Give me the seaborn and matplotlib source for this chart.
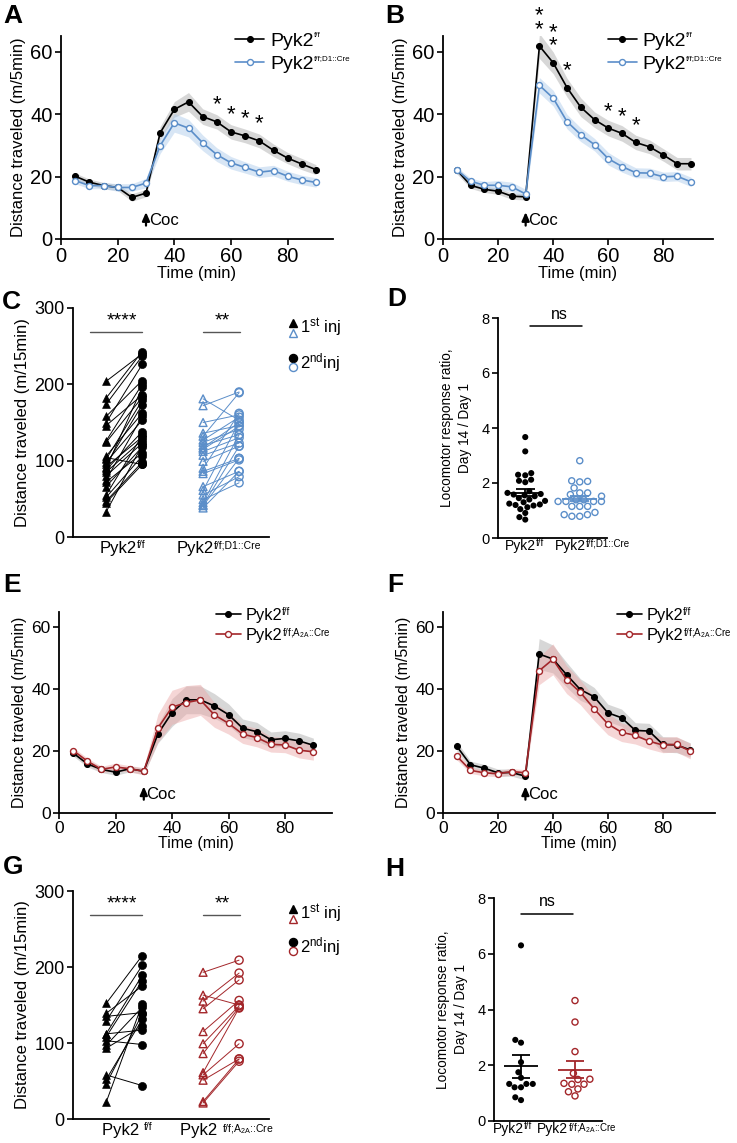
import numpy as np
import pandas as pd
import matplotlib
matplotlib.use("Agg")
import matplotlib.pyplot as plt
import seaborn as sns

##########################################
# Data
##########################################
time = [5, 10, 15, 20, 25, 30, 35, 40, 45, 50, 55, 60, 65, 70, 75, 80, 85, 90]

# A : day 1, D1 cohort
a_ff = [20.1, 18.2, 17.1, 16.5, 13.3, 14.7, 34.0, 41.5, 43.9, 39.2, 37.5, 34.3, 33.0, 31.4, 28.4, 25.9, 24.0, 22.2]
a_ff_sem = [1.0, 1.0, 1.0, 1.0, 1.2, 1.2, 2.0, 2.5, 3.0, 2.5, 2.3, 2.3, 2.2, 2.2, 2.0, 1.8, 1.8, 1.6]
a_d1 = [18.7, 17.1, 17.1, 16.5, 16.5, 17.9, 29.9, 37.2, 35.5, 30.8, 27.0, 24.4, 22.9, 21.4, 21.9, 20.1, 18.9, 18.1]
a_d1_sem = [1.0, 1.0, 1.0, 1.2, 1.2, 1.5, 2.5, 3.0, 2.8, 2.5, 2.2, 2.0, 1.8, 1.7, 1.7, 1.6, 1.5, 1.5]
a_star_times = [55, 60, 65, 70]

# B : day 14, D1 cohort
b_ff = [22.1, 17.2, 15.9, 15.3, 13.7, 13.5, 61.8, 56.4, 48.5, 42.2, 38.2, 35.5, 33.8, 30.9, 29.5, 26.9, 24.1, 24.1]
b_ff_sem = [1.2, 1.0, 1.0, 1.0, 1.0, 1.0, 4.0, 3.5, 3.0, 3.0, 2.5, 2.5, 2.5, 2.3, 2.2, 2.0, 2.0, 2.0]
b_d1 = [22.1, 18.5, 17.2, 17.2, 16.7, 14.4, 49.2, 45.1, 37.6, 33.4, 30.2, 25.7, 23.2, 21.2, 21.1, 19.9, 20.1, 18.3]
b_d1_sem = [1.0, 1.0, 1.2, 1.5, 1.5, 1.5, 2.5, 2.5, 2.3, 2.2, 2.0, 2.0, 1.8, 1.6, 1.6, 1.5, 1.5, 1.5]
b_star_times = [35, 40, 45, 60, 65, 70]
b_star_counts = [2, 2, 1, 1, 1, 1]

# C : paired injections, D1 cohort
c_ff_1st = [204, 182, 174, 158, 150, 146, 126, 124, 106, 102, 98, 95, 92, 90, 88, 85, 80, 75, 72, 66, 55, 52, 47, 45, 33, 104]
c_ff_2nd = [240, 243, 237, 205, 226, 186, 200, 183, 162, 179, 153, 173, 131, 196, 138, 127, 123, 158, 110, 118, 133, 106, 98, 95, 120, 95]
c_d1_1st = [181, 172, 150, 136, 132, 127, 124, 120, 117, 112, 107, 99, 90, 86, 83, 66, 61, 55, 49, 45, 42, 41, 38, 115]
c_d1_2nd = [153, 190, 160, 146, 189, 157, 141, 134, 150, 130, 123, 119, 162, 103, 101, 86, 150, 79, 71, 134, 119, 103, 86, 145]

# D : day14/day1 ratio, D1 cohort
d_ff = [3.67, 3.15, 2.36, 2.30, 2.28, 2.12, 2.08, 2.03, 1.70, 1.64, 1.60, 1.58, 1.55, 1.52,
        1.45, 1.40, 1.35, 1.30, 1.25, 1.22, 1.20, 1.18, 1.12, 1.05, 0.91, 0.76, 0.67]
d_d1 = [2.81, 2.08, 2.04, 2.06, 1.82, 1.64, 1.58, 1.64, 1.52, 1.39, 1.39, 1.33, 1.33, 1.33,
        1.33, 1.15, 1.15, 1.15, 0.93, 0.85, 0.79, 0.79, 0.85]

# E : day 1, A2A cohort
e_ff = [19.4, 15.9, 14.1, 13.2, 14.3, 13.5, 25.6, 32.5, 36.6, 36.6, 34.6, 31.8, 27.4, 26.3, 23.7, 24.1, 23.3, 21.9]
e_ff_sem = [1.0, 1.0, 1.0, 1.0, 1.0, 1.0, 3.0, 4.5, 4.5, 4.5, 4.0, 3.5, 3.0, 3.0, 2.5, 2.5, 2.5, 2.3]
e_a2a = [20.2, 16.8, 14.1, 14.9, 14.3, 13.5, 27.5, 34.2, 35.7, 36.6, 31.7, 29.0, 25.5, 24.4, 22.2, 22.0, 20.3, 19.8]
e_a2a_sem = [1.0, 1.0, 1.0, 1.2, 1.0, 1.2, 4.5, 5.5, 5.5, 5.0, 4.0, 3.5, 3.0, 3.0, 2.5, 2.5, 2.5, 2.7]

# F : day 14, A2A cohort
f_ff = [21.6, 15.6, 14.5, 13.0, 13.1, 11.9, 51.4, 49.8, 44.7, 39.9, 37.6, 32.4, 30.8, 26.7, 26.5, 22.2, 22.0, 20.4]
f_ff_sem = [1.5, 1.2, 1.2, 1.2, 1.2, 1.2, 5.0, 4.5, 4.0, 3.5, 3.0, 2.8, 2.8, 2.5, 2.5, 2.5, 2.5, 2.3]
f_a2a = [18.4, 13.8, 13.0, 12.7, 13.4, 13.0, 46.0, 49.7, 43.1, 39.0, 33.7, 28.8, 26.1, 25.1, 23.2, 22.0, 22.2, 20.0]
f_a2a_sem = [1.2, 1.0, 1.0, 1.0, 1.0, 1.0, 4.5, 5.0, 4.5, 4.0, 3.8, 3.5, 3.0, 2.8, 2.5, 2.5, 2.5, 2.5]

# G : paired injections, A2A cohort
g_ff_1st = [152, 139, 135, 129, 112, 108, 103, 97, 93, 58, 52, 46, 22, 112]
g_ff_2nd = [215, 175, 140, 202, 189, 182, 98, 147, 122, 44, 131, 138, 151, 117]
g_a2a_1st = [193, 163, 155, 145, 115, 99, 86, 61, 58, 51, 23, 21]
g_a2a_2nd = [209, 150, 192, 183, 156, 149, 147, 146, 99, 79, 79, 76]

# H : day14/day1 ratio, A2A cohort
h_ff = [6.3, 2.91, 2.81, 2.11, 1.75, 1.55, 1.33, 1.33, 1.33, 1.21, 1.21, 0.85, 0.75]
h_a2a = [4.32, 3.55, 2.49, 1.71, 1.50, 1.49, 1.35, 1.32, 1.32, 1.15, 1.05, 0.90]

# genotype superscripts
SUP_FF = "f/f"
SUP_D1 = "f/f;D1::Cre"
SUP_A2A = r"f/f;A$_{\mathrm{2A}}$::Cre"

BLUE = "#5b8ec9"
BLUE_BAND = "#a9c8ea"
RED = "#a3262a"
RED_BAND = "#eba5a5"
GREY_BAND = "#a8a8a8"

##########################################
# Style
##########################################
sns.set_style("ticks")
plt.rcParams['font.family'] = ['Liberation Sans', 'DejaVu Sans']
plt.rcParams['mathtext.fontset'] = 'custom'
plt.rcParams['mathtext.rm'] = 'Liberation Sans'
plt.rcParams['mathtext.it'] = 'Liberation Sans:italic'
plt.rcParams['mathtext.bf'] = 'Liberation Sans:bold'
plt.rcParams['axes.linewidth'] = 1.3
for key in ['text.color', 'axes.labelcolor', 'xtick.color', 'ytick.color', 'axes.edgecolor']:
    plt.rcParams[key] = 'black'

W, H = 737, 1143
fig = plt.figure(figsize=(W / 100, H / 100), dpi=100)

# superscripts get hung on after a draw: (getter, sup text, size)
sups = []


def add_ax(left, top, right, bottom):
    # pixel box -> figure fraction
    return fig.add_axes([left / W, 1 - bottom / H, (right - left) / W, (bottom - top) / H])


def style_ax(ax, size):
    sns.despine(ax=ax)
    ax.tick_params(direction='out', length=4, width=1.2, labelsize=size, pad=2)


def time_panel(ax, ff, ff_sem, ko, ko_sem, color, band, ko_sup, xmax, leg_x,
               tick_size, lab_size, leg_size, sup_size):
    t = np.array(time)
    ff, ff_sem, ko, ko_sem = map(np.array, (ff, ff_sem, ko, ko_sem))
    ax.fill_between(t, ff - ff_sem, ff + ff_sem, color=GREY_BAND, alpha=0.45, lw=0)
    ax.fill_between(t, ko - ko_sem, ko + ko_sem, color=band, alpha=0.45, lw=0)
    sns.lineplot(x=t, y=ff, color='k', marker='o', markersize=4.3, markeredgecolor='k',
                 lw=1.2, label="Pyk2", ax=ax)
    sns.lineplot(x=t, y=ko, color=color, marker='o', markersize=4.3, markerfacecolor='white',
                 markeredgecolor=color, markeredgewidth=1.0, lw=1.2, label="Pyk2", ax=ax)
    ax.set_xlim(0, xmax)
    ax.set_ylim(0, 65)
    ax.set_xticks([0, 20, 40, 60, 80])
    ax.set_yticks([0, 20, 40, 60])
    ax.set_xlabel("Time (min)", fontsize=lab_size, labelpad=0)
    ax.set_ylabel("Distance traveled (m/5min)", fontsize=lab_size, labelpad=3)
    ax.annotate("", xy=(30, 9.5), xytext=(30, 3.4),
                arrowprops=dict(arrowstyle='-|>,head_width=0.22,head_length=0.5', color='k', lw=1.6))
    ax.text(31, 6.0, "Coc", fontsize=12, va='center', ha='left')
    handles, _ = ax.get_legend_handles_labels()
    leg = ax.legend(handles, ["Pyk2", "Pyk2"], frameon=False, loc='upper left',
                    bbox_to_anchor=(leg_x, 1.02), fontsize=leg_size,
                    handlelength=1.5, handletextpad=0.3, labelspacing=0.3, borderaxespad=0,
                    borderpad=0)
    for txt, s in zip(leg.get_texts(), [SUP_FF, ko_sup]):
        sups.append((lambda txt=txt: txt, s, sup_size))
    style_ax(ax, tick_size)


def paired_frame(first, second, pos1, pos2, group):
    n = len(first)
    return pd.DataFrame({
        "subject": [f"{group}{i}" for i in range(n)] * 2,
        "pos": [pos1] * n + [pos2] * n,
        "value": list(first) + list(second),
        "inj": ["1st"] * n + ["2nd"] * n,
    })


def paired_panel(ax, ff1, ff2, ko1, ko2, color, ko_sup, label_pos, main_labels, leg_y):
    groups = [(paired_frame(ff1, ff2, 0.92, 1.92, "ff"), 'k', False),
              (paired_frame(ko1, ko2, 3.61, 4.61, "ko"), color, True)]
    for df, c, hollow in groups:
        sns.lineplot(data=df, x="pos", y="value", units="subject", estimator=None,
                     color=c, lw=0.7, ax=ax)
        for inj, mk, s in [("1st", '^', 32), ("2nd", 'o', 34)]:
            sns.scatterplot(data=df[df.inj == inj], x="pos", y="value", marker=mk, s=s,
                            color=c, edgecolor=c, ax=ax, zorder=3)
            pts = ax.collections[-1]
            if hollow:
                pts.set_facecolor('none')
                pts.set_edgecolor(c)
                pts.set_linewidth(1.0)
    # significance bars
    ax.plot([0.47, 1.92], [268, 268], color='#555555', lw=1.0)
    ax.text(1.36, 272, "****", ha='center', va='bottom', fontsize=14)
    ax.plot([3.61, 4.64], [268, 268], color='#555555', lw=1.0)
    ax.text(4.14, 272, "**", ha='center', va='bottom', fontsize=14)
    ax.set_xlim(0, 5.44)
    ax.set_ylim(0, 300)
    ax.set_yticks([0, 100, 200, 300])
    ax.set_xticks(label_pos)
    ax.set_xticklabels(main_labels)
    ax.set_xlabel("")
    ax.set_ylabel("Distance traveled (m/15min)", fontsize=12, labelpad=3)
    style_ax(ax, 13)
    ax.tick_params(axis='x', length=0, pad=3, labelsize=12)
    for i, s in enumerate([SUP_FF, ko_sup]):
        sups.append((lambda ax=ax, i=i: ax.get_xticklabels()[i], s, 7.5))
    # legend glyphs
    tr = ax.transAxes
    y1a, y1b, y2a, y2b = leg_y
    ax.plot([1.122], [y1a], '^', ms=5.5, color='k', transform=tr, clip_on=False)
    ax.plot([1.122], [y1b], '^', ms=5.5, mfc='none', mec=color, transform=tr, clip_on=False)
    ax.plot([1.122], [y2a], 'o', ms=5.8, color='k', transform=tr, clip_on=False)
    ax.plot([1.122], [y2b], 'o', ms=5.8, mfc='none', mec=color, transform=tr, clip_on=False)
    ax.text(1.16, (y1a + y1b) / 2, r"1$^{\mathrm{st}}$ inj", transform=tr, fontsize=12, va='center')
    ax.text(1.16, (y2a + y2b) / 2, r"2$^{\mathrm{nd}}$inj", transform=tr, fontsize=12, va='center')


def ratio_panel(ax, ff, ko, color, ko_sup, label_pos, bar, ns_x, ns_y):
    df = pd.DataFrame({"group": ["ff"] * len(ff) + ["ko"] * len(ko), "ratio": ff + ko})
    sns.swarmplot(data=df, x="group", y="ratio", hue="group", palette=['k', color],
                  size=4.4, legend=False, ax=ax)
    for coll in ax.collections:
        offs = coll.get_offsets()
        if len(offs) and offs[:, 0].mean() > 0.5:
            coll.set_facecolor('none')
            coll.set_edgecolor(color)
            coll.set_linewidth(1.0)
    for i, (vals, c) in enumerate([(ff, 'k'), (ko, color)]):
        m = np.mean(vals)
        se = np.std(vals, ddof=1) / np.sqrt(len(vals))
        ax.hlines(m, i - 0.32, i + 0.32, color=c, lw=1.3, zorder=4)
        ax.hlines([m - se, m + se], i - 0.17, i + 0.17, color=c, lw=1.3, zorder=4)
        ax.vlines(i, m - se, m + se, color=c, lw=1.3, zorder=4)
    ax.plot(bar[:2], [bar[2], bar[2]], color='k', lw=1.1)
    ax.text(ns_x, ns_y, "ns", ha='center', va='bottom', fontsize=11.5)
    ax.set_xlim(-0.5, 1.5)
    ax.set_ylim(0, 8)
    ax.set_yticks([0, 2, 4, 6, 8])
    ax.set_xticks(label_pos)
    ax.set_xticklabels(["Pyk2", "Pyk2"])
    ax.set_xlabel("")
    ax.set_ylabel("Locomotor response ratio,\nDay 14 / Day 1", fontsize=9.8, labelpad=7,
                  linespacing=1.35)
    style_ax(ax, 10.5)
    ax.tick_params(axis='x', length=0, pad=1, labelsize=10)
    for i, s in enumerate([SUP_FF, ko_sup]):
        sups.append((lambda ax=ax, i=i: ax.get_xticklabels()[i], s, 7))


##########################################
# Panels
##########################################
axA = add_ax(61, 36, 333, 239)
time_panel(axA, a_ff, a_ff_sem, a_d1, a_d1_sem, BLUE, BLUE_BAND, SUP_D1, 96, 0.64,
           14.5, 12, 14, 5.8)
for t in a_star_times:
    axA.text(t, a_ff[time.index(t)] + 2.2, "*", ha='center', va='bottom', fontsize=16)

axB = add_ax(443, 36, 713, 239)
time_panel(axB, b_ff, b_ff_sem, b_d1, b_d1_sem, BLUE, BLUE_BAND, SUP_D1, 98, 0.61,
           14.5, 12, 14, 5.8)
for t, n in zip(b_star_times, b_star_counts):
    axB.text(t, b_ff[time.index(t)] + 2.0, "\n".join(["*"] * n), ha='center', va='bottom',
             fontsize=16, linespacing=0.55)

axC = add_ax(73, 308, 269, 537)
paired_panel(axC, c_ff_1st, c_ff_2nd, c_d1_1st, c_d1_2nd, BLUE, SUP_D1,
             [1.25, 3.39], ["Pyk2", "Pyk2"], (0.934, 0.891, 0.782, 0.742))

axD = add_ax(498, 318, 607, 538)
ratio_panel(axD, d_ff, d_d1, BLUE, SUP_D1, [-0.09, 0.83], (0.09, 1.05, 7.7), 0.62, 7.85)

axE = add_ax(59, 612, 332, 813)
time_panel(axE, e_ff, e_ff_sem, e_a2a, e_a2a_sem, RED, RED_BAND, SUP_A2A, 96.6, 0.575,
           12.5, 11.5, 11.8, 7)

axF = add_ax(443, 612, 715, 813)
time_panel(axF, f_ff, f_ff_sem, f_a2a, f_a2a_sem, RED, RED_BAND, SUP_A2A, 99, 0.64,
           12.5, 11.5, 11.8, 7)

axG = add_ax(73, 891, 269, 1119)
paired_panel(axG, g_ff_1st, g_ff_2nd, g_a2a_1st, g_a2a_2nd, RED, SUP_A2A,
             [1.38, 3.55], ["Pyk2 ", "Pyk2 "], (0.921, 0.877, 0.776, 0.737))

axH = add_ax(494, 898, 602, 1121)
ratio_panel(axH, h_ff, h_a2a, RED, SUP_A2A, [-0.24, 0.59], (0.0, 0.96, 7.44), 0.48, 7.6)

# panel letters
for letter, x, y in [("A", 3, 4), ("B", 385, 4), ("C", 2, 290), ("D", 387, 287),
                     ("E", 3, 573), ("F", 387, 573), ("G", 3, 855), ("H", 385, 857)]:
    fig.text(x / W, 1 - y / H, letter, fontsize=19, fontweight='bold', ha='left', va='top')

# hang the small superscripts on the end of each "Pyk2"
fig.canvas.draw()
renderer = fig.canvas.get_renderer()
for getter, s, size in sups:
    bb = getter().get_window_extent(renderer)
    fig.text(bb.x1 / W, (bb.y1 + 1) / H, s, fontsize=size, ha='left', va='top')

fig.savefig("out.png", dpi=100)
